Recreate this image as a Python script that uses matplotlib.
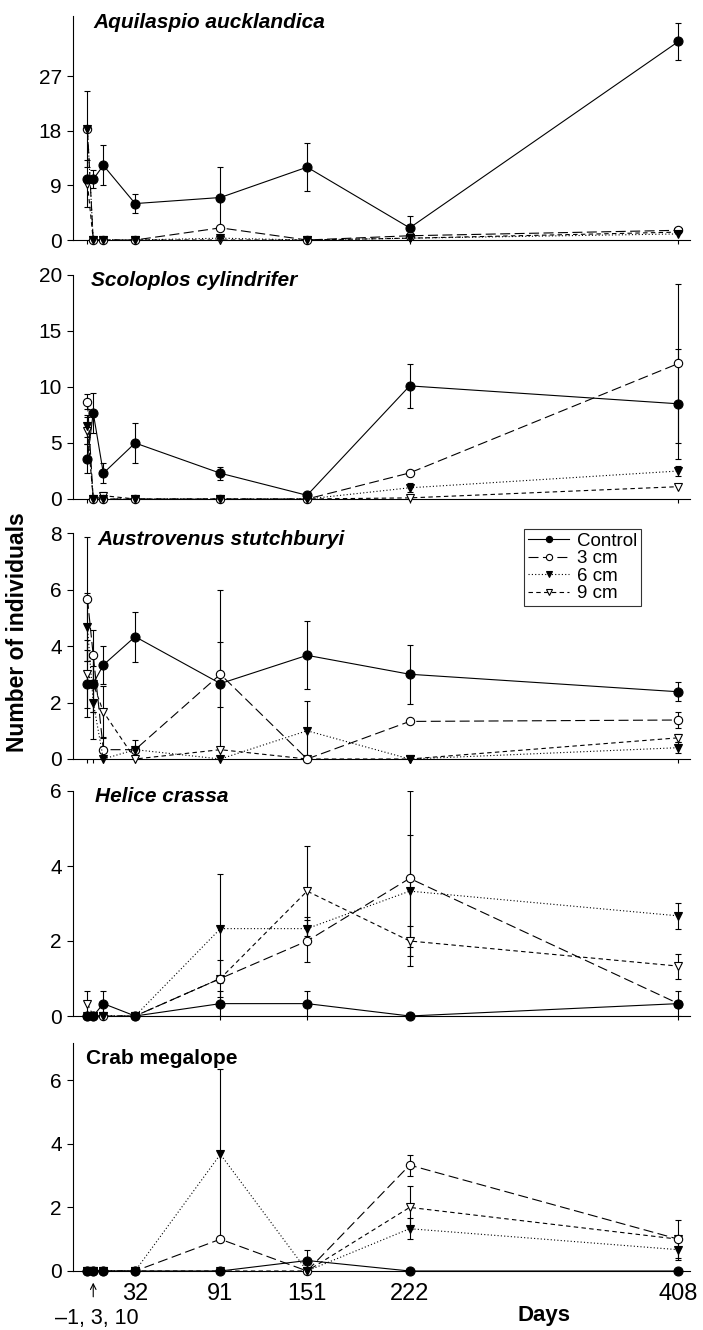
import matplotlib
matplotlib.use("Agg")
import matplotlib.pyplot as plt
from matplotlib.lines import Line2D

plt.rcParams['font.family'] = ['Liberation Sans', 'DejaVu Sans']

# sampling days
days = [-1, 3, 10, 32, 91, 151, 222, 408]

# Aquilaspio aucklandica
aq_ctrl = [10, 10, 12.3, 6, 7, 12, 2, 32.7]
aq_ctrl_err = [0, 1.5, 3.3, 1.5, 5, 4, 2, 3.1]
aq_3 = [18.3, 0, 0, 0, 2, 0, 0.7, 1.6]
aq_3_err = [6.2, 0, 0, 0, 0, 0, 0, 0.5]
aq_6 = [18.3, 0, 0, 0, 0.3, 0, 0.3, 1.0]
aq_6_err = [0, 0, 0, 0, 0, 0, 0, 0]
aq_9 = [9.3, 0, 0, 0, 0, 0, 0.3, 1.3]
aq_9_err = [3.9, 0, 0, 0, 0, 0, 0, 0]

# Scoloplos cylindrifer
sc_ctrl = [3.6, 7.7, 2.3, 5.0, 2.3, 0.33, 10.1, 8.5]
sc_ctrl_err = [1.3, 1.8, 0.9, 1.75, 0.6, 0, 1.95, 4.9]
sc_3 = [8.7, 0, 0, 0, 0, 0, 2.33, 12.1]
sc_3_err = [0.7, 0, 0, 0, 0, 0, 0.2, 7.1]
sc_6 = [6.5, 0, 0, 0, 0, 0, 1.0, 2.5]
sc_6_err = [1.0, 0, 0, 0, 0, 0, 0.4, 0.45]
sc_9 = [6.1, 0, 0.3, 0, 0, 0, 0.1, 1.1]
sc_9_err = [1.2, 0, 0.3, 0, 0, 0, 0, 0]

# Austrovenus stutchburyi
au_ctrl = [2.67, 2.67, 3.33, 4.33, 2.67, 3.67, 3.0, 2.38]
au_ctrl_err = [1.2, 1.0, 0.67, 0.88, 3.33, 1.2, 1.05, 0.33]
au_3 = [5.67, 3.67, 0.33, 0.33, 3.0, 0, 1.33, 1.38]
au_3_err = [2.2, 0.9, 0.4, 0, 1.15, 0, 0, 0.3]
au_6 = [4.67, 2.0, 0, 0.33, 0, 1.0, 0, 0.4]
au_6_err = [1.2, 1.3, 0, 0.33, 0, 1.05, 0, 0.2]
au_9 = [3.0, 2.67, 1.67, 0, 0.33, 0, 0, 0.75]
au_9_err = [1.2, 1.0, 0.9, 0, 0, 0, 0, 0.15]

# Helice crassa
he_ctrl = [0, 0, 0.33, 0, 0.33, 0.33, 0, 0.33]
he_ctrl_err = [0, 0, 0.33, 0, 0.33, 0.33, 0, 0.33]
he_3 = [0, 0, 0, 0, 1.0, 2.0, 3.67, 0.33]
he_3_err = [0, 0, 0, 0, 0.5, 0.55, 2.33, 0]
he_6 = [0, 0, 0, 0, 2.33, 2.33, 3.33, 2.67]
he_6_err = [0, 0, 0, 0, 1.45, 0.3, 1.5, 0.35]
he_9 = [0.33, 0, 0, 0, 1.0, 3.33, 2.0, 1.33]
he_9_err = [0.33, 0, 0, 0, 0, 1.2, 0.4, 0.33]

# Crab megalope
cr_ctrl = [0, 0, 0, 0, 0, 0.33, 0, 0]
cr_ctrl_err = [0, 0, 0, 0, 0, 0.33, 0, 0]
cr_3 = [0, 0, 0, 0, 1.0, 0, 3.33, 1.0]
cr_3_err = [0, 0, 0, 0, 0, 0, 0.33, 0]
cr_6 = [0, 0, 0, 0, 3.67, 0, 1.33, 0.67]
cr_6_err = [0, 0, 0, 0, 2.67, 0, 0.33, 0.33]
cr_9 = [0, 0, 0, 0, 0, 0, 2.0, 1.0]
cr_9_err = [0, 0, 0, 0, 0, 0, 0.67, 0.6]

panels = [
    ("Aquilaspio aucklandica", True, [aq_ctrl, aq_3, aq_6, aq_9],
     [aq_ctrl_err, aq_3_err, aq_6_err, aq_9_err], [0, 9, 18, 27], 36.9, (16, 240), 93),
    ("Scoloplos cylindrifer", True, [sc_ctrl, sc_3, sc_6, sc_9],
     [sc_ctrl_err, sc_3_err, sc_6_err, sc_9_err], [0, 5, 10, 15, 20], 20, (275, 499), 91),
    ("Austrovenus stutchburyi", True, [au_ctrl, au_3, au_6, au_9],
     [au_ctrl_err, au_3_err, au_6_err, au_9_err], [0, 2, 4, 6, 8], 8, (533, 759), 97),
    ("Helice crassa", True, [he_ctrl, he_3, he_6, he_9],
     [he_ctrl_err, he_3_err, he_6_err, he_9_err], [0, 2, 4, 6], 6, (791, 1016), 95),
    ("Crab megalope", False, [cr_ctrl, cr_3, cr_6, cr_9],
     [cr_ctrl_err, cr_3_err, cr_6_err, cr_9_err], [0, 2, 4, 6], 7.17, (1043, 1271), 86),
]

series_names = ["Control", "3 cm", "6 cm", "9 cm"]
styles = [
    dict(ls='-', marker='o', mfc='black', ms=6.5, zorder=6),
    dict(ls=(0, (9, 4)), marker='o', mfc='white', ms=6, zorder=4),
    dict(ls=(0, (1, 2)), marker='v', mfc='black', ms=6, zorder=5),
    dict(ls=(0, (4, 3)), marker='v', mfc='white', ms=6, zorder=3),
]

W, H = 703, 1330
fig = plt.figure(figsize=(W / 100, H / 100), dpi=100)
left_px, right_px = 73, 690

axes = []
for title, italic, ys, errs, yt, ytop, (top_px, bot_px), tx in panels:
    ax = fig.add_axes([left_px / W, 1 - bot_px / H, (right_px - left_px) / W, (bot_px - top_px) / H])
    for y, e, st in zip(ys, errs, styles):
        ax.plot(days, y, color='black', lw=0.8, mec='black', mew=0.8, clip_on=False, **st)
        d = [dd for dd, ee in zip(days, e) if ee > 0]
        yy = [v for v, ee in zip(y, e) if ee > 0]
        ee = [v for v in e if v > 0]
        if d:
            ax.errorbar(d, yy, yerr=ee, fmt='none', ecolor='black', elinewidth=0.8,
                        capsize=2.5, capthick=0.8, zorder=2)
    ax.set_xlim(-11, 416)
    ax.set_ylim(0, ytop)
    ax.set_yticks(yt)
    ax.set_xticks(days)
    ax.set_xticklabels([])
    for s in ['top', 'right']:
        ax.spines[s].set_visible(False)
    ax.spines['left'].set_linewidth(0.8)
    ax.spines['bottom'].set_linewidth(0.8)
    ax.tick_params(axis='y', direction='out', length=4, width=0.8, labelsize=15, pad=4)
    ax.tick_params(axis='x', direction='out', length=3, width=0.8, labelsize=17, pad=6)
    h = bot_px - top_px
    tx_ax = (tx - left_px) / (right_px - left_px)
    if italic:
        ax.text(tx_ax, 1 - 6 / h, title, transform=ax.transAxes, fontsize=15, fontweight='bold',
                fontstyle='italic', ha='left', va='center')
    else:
        ax.text(tx_ax, 1 - 15 / h, title, transform=ax.transAxes, fontsize=15, fontweight='bold',
                ha='left', va='center')
    axes.append(ax)

# legend in the third panel
handles = [Line2D([], [], color='black', lw=0.8, mec='black', mew=0.8,
                  **{k: v for k, v in st.items() if k != 'zorder' and k != 'ms'}, ms=4.5)
           for st in styles]
leg = axes[2].legend(handles, series_names, loc='upper right', bbox_to_anchor=(0.92, 1.018),
                     fontsize=13.5, frameon=True, fancybox=False, edgecolor='black',
                     handlelength=2.2, handletextpad=0.4, borderpad=0.2, labelspacing=0.02,
                     borderaxespad=0)
leg.get_frame().set_linewidth(0.8)

# bottom axis labels
ax5 = axes[-1]
ax5.set_xticks(days)
ax5.set_xticklabels(['', '', '', '32', '91', '151', '222', '408'])
ax5.annotate('', xy=(3, -0.28), xytext=(3, -0.9), xycoords='data',
             arrowprops=dict(arrowstyle='->', lw=0.8, color='black'), annotation_clip=False)
ax5.text(5.5, -1.5, '\u20131, 3, 10', fontsize=15.5, ha='center', va='center', clip_on=False)

fig.text(544 / W, 1 - 1316 / H, 'Days', fontsize=16, fontweight='bold', ha='center', va='center')
fig.text(18 / W, 1 - 632 / H, 'Number of individuals', fontsize=16.5, fontweight='bold',
         rotation=90, ha='center', va='center')

fig.savefig('out.png', dpi=100)
